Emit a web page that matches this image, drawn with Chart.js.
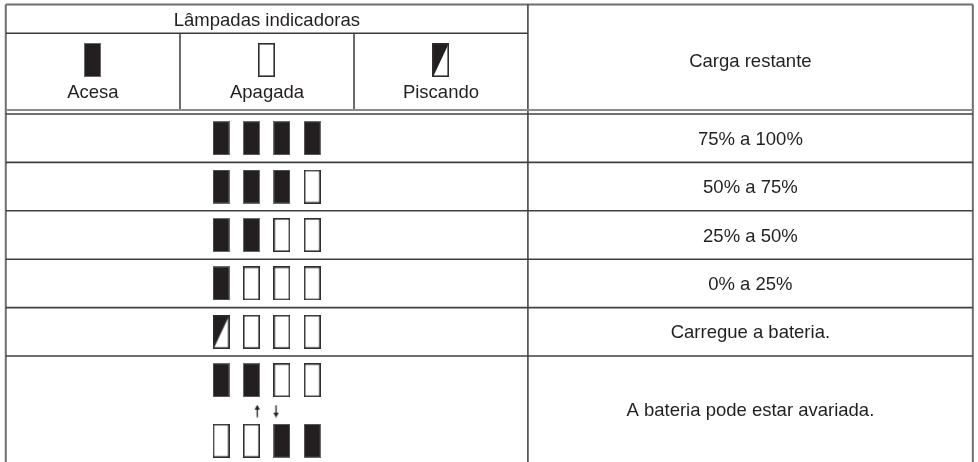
<!DOCTYPE html>
<html lang="pt">
<head>
<meta charset="utf-8">
<title>Lâmpadas indicadoras</title>
<script src="https://cdn.jsdelivr.net/npm/chart.js@4.4.1/dist/chart.umd.min.js"></script>
<style>
  html, body { margin: 0; padding: 0; background: #fff; }
  #wrap { width: 978px; height: 462px; position: relative; }
</style>
</head>
<body>
<div id="wrap"><canvas id="chart"></canvas></div>
<script>
// lamp states per row (lamps 1-4), last row alternates with lampRowAlt
const chargeLabels = ['75% a 100%', '50% a 75%', '25% a 50%', '0% a 25%', 'Carregue a bateria.', 'A bateria pode estar avariada.'];
const lampRows = [
    ['on', 'on', 'on', 'on'],
    ['on', 'on', 'on', 'off'],
    ['on', 'on', 'off', 'off'],
    ['on', 'off', 'off', 'off'],
    ['blink', 'off', 'off', 'off'],
    ['on', 'on', 'off', 'off']
];
const lampRowAlt = ['off', 'off', 'on', 'on'];
const swapArrows = [{ lamp: 2, dir: 'up' }, { lamp: 3, dir: 'down' }];
const stateKeys = ['on', 'off', 'blink'];
const stateLabels = ['Acesa', 'Apagada', 'Piscando'];
const headerTitle = 'Lâmpadas indicadoras';
const headerCharge = 'Carga restante';

// table layout in scale units (x: lamp index, y: body row index)
const colEdges = [-6.08, -0.35, 5.375, 11.095, 25.73];
const headTop = -2.262, titleLine = -1.667, headGray = -0.083;
const altRowY = 6.75, arrowY = 6.14, legendLampY = -1.126;

const INK = '#231f20';
const FONT = '18.5px "Liberation Sans", Arial, sans-serif';

function makeLamp(state) {
    const c = document.createElement('canvas');
    c.width = 17; c.height = 34;
    const g = c.getContext('2d');
    if (state === 'on') {
        g.fillStyle = INK;
        g.fillRect(0, 0, 17, 34);
        g.strokeStyle = '#6a6a6a';
        g.lineWidth = 1;
        g.strokeRect(0.5, 0.5, 16, 33);
    } else {
        g.fillStyle = '#fff';
        g.fillRect(0, 0, 17, 34);
        if (state === 'blink') {
            g.fillStyle = INK;
            g.beginPath();
            g.moveTo(0, 0); g.lineTo(17, 0); g.lineTo(1, 34); g.lineTo(0, 34);
            g.closePath();
            g.fill();
        }
        g.strokeStyle = '#2e2e2e';
        g.lineWidth = 1.6;
        g.strokeRect(0.8, 0.8, 15.4, 32.4);
    }
    return c;
}

function makeArrow(dir) {
    const c = document.createElement('canvas');
    c.width = 9; c.height = 13;
    const g = c.getContext('2d');
    g.save();
    if (dir === 'down') { g.translate(0, 13); g.scale(1, -1); }
    g.strokeStyle = INK;
    g.lineWidth = 1.3;
    g.beginPath(); g.moveTo(4.5, 12.5); g.lineTo(4.5, 3); g.stroke();
    g.fillStyle = INK;
    g.beginPath(); g.moveTo(4.5, 0); g.lineTo(1.8, 5); g.lineTo(7.2, 5); g.closePath(); g.fill();
    g.restore();
    return c;
}

const lampIcons = {};
stateKeys.forEach(k => { lampIcons[k] = makeLamp(k); });

function lampPoints(state) {
    const pts = [];
    lampRows.forEach((row, r) => row.forEach((s, i) => {
        if (s === state) pts.push({ x: i + 1, y: r + 0.5 });
    }));
    lampRowAlt.forEach((s, i) => {
        if (s === state) pts.push({ x: i + 1, y: altRowY });
    });
    return pts;
}

const datasets = stateKeys.map((k, i) => ({
    label: stateLabels[i],
    data: lampPoints(k),
    pointStyle: lampIcons[k],
    pointRadius: 8
}));
datasets.push({
    label: 'troca',
    data: swapArrows.map(a => ({ x: a.lamp + (a.dir === 'up' ? 0.19 : -0.19), y: arrowY })),
    pointStyle: swapArrows.map(a => makeArrow(a.dir)),
    pointRadius: 5
});

const tablePlugin = {
    id: 'tableGrid',
    beforeDatasetsDraw(chart) {
        const { ctx, scales: { x, y }, chartArea } = chart;
        const X = v => x.getPixelForValue(v);
        const Y = v => y.getPixelForValue(v);
        const bottom = chartArea.bottom + 2;
        const line = (x1, y1, x2, y2, color, w) => {
            ctx.strokeStyle = color;
            ctx.lineWidth = w;
            ctx.beginPath();
            ctx.moveTo(x1, y1);
            ctx.lineTo(x2, y2);
            ctx.stroke();
        };
        ctx.save();
        const L = X(colEdges[0]), R = X(colEdges[4]);
        // outer box
        line(L, Y(headTop), R, Y(headTop), '#6e6e6e', 2);
        line(L, Y(headTop), L, bottom, '#6e6e6e', 2);
        line(R, Y(headTop), R, bottom, '#6e6e6e', 2);
        // header
        line(L, Y(titleLine), X(colEdges[3]), Y(titleLine), '#3a3a3a', 1.5);
        line(X(colEdges[1]), Y(titleLine), X(colEdges[1]), Y(headGray), '#3a3a3a', 1.5);
        line(X(colEdges[2]), Y(titleLine), X(colEdges[2]), Y(headGray), '#3a3a3a', 1.5);
        line(X(colEdges[3]), Y(headTop), X(colEdges[3]), bottom, '#3a3a3a', 1.5);
        line(L, Y(headGray), R, Y(headGray), '#8c8c8c', 2);
        // body rows
        for (let r = 0; r < chargeLabels.length; r++) {
            line(L, Y(r), R, Y(r), '#404040', 1.6);
        }

        // text
        ctx.fillStyle = INK;
        ctx.font = FONT;
        ctx.textAlign = 'center';
        ctx.textBaseline = 'alphabetic';
        const cap = 6.6;
        ctx.fillText(headerTitle, X((colEdges[0] + colEdges[3]) / 2), (Y(headTop) + Y(titleLine)) / 2 + cap);
        ctx.fillText(headerCharge, X((colEdges[3] + colEdges[4]) / 2), (Y(headTop) + Y(headGray)) / 2 + cap + 3);
        const textX = X((colEdges[3] + colEdges[4]) / 2);
        chargeLabels.forEach((t, r) => {
            const cy = r < chargeLabels.length - 1 ? Y(r + 0.5) : Y(arrowY) - 1.5;
            ctx.fillText(t, textX, cy + cap);
        });
        // header legend: lamp + label
        stateKeys.forEach((k, i) => {
            const cx = X((colEdges[i] + colEdges[i + 1]) / 2);
            const img = lampIcons[k];
            ctx.drawImage(img, Math.round(cx - img.width / 2), Math.round(Y(legendLampY) - img.height / 2));
            ctx.fillText(stateLabels[i], cx, Y(headGray) - 11.5);
        });
        ctx.restore();
    }
};

new Chart(document.getElementById('chart'), {
    type: 'scatter',
    data: { datasets },
    options: {
        responsive: true,
        maintainAspectRatio: false,
        animation: false,
        events: [],
        layout: { padding: 0, autoPadding: false },
        scales: {
            x: { type: 'linear', min: -6.27, max: 25.9, display: false },
            y: { type: 'linear', min: -2.3554, max: 7.19, reverse: true, display: false }
        },
        plugins: {
            legend: { display: false },
            tooltip: { enabled: false }
        }
    },
    plugins: [tablePlugin]
});
</script>
</body>
</html>
